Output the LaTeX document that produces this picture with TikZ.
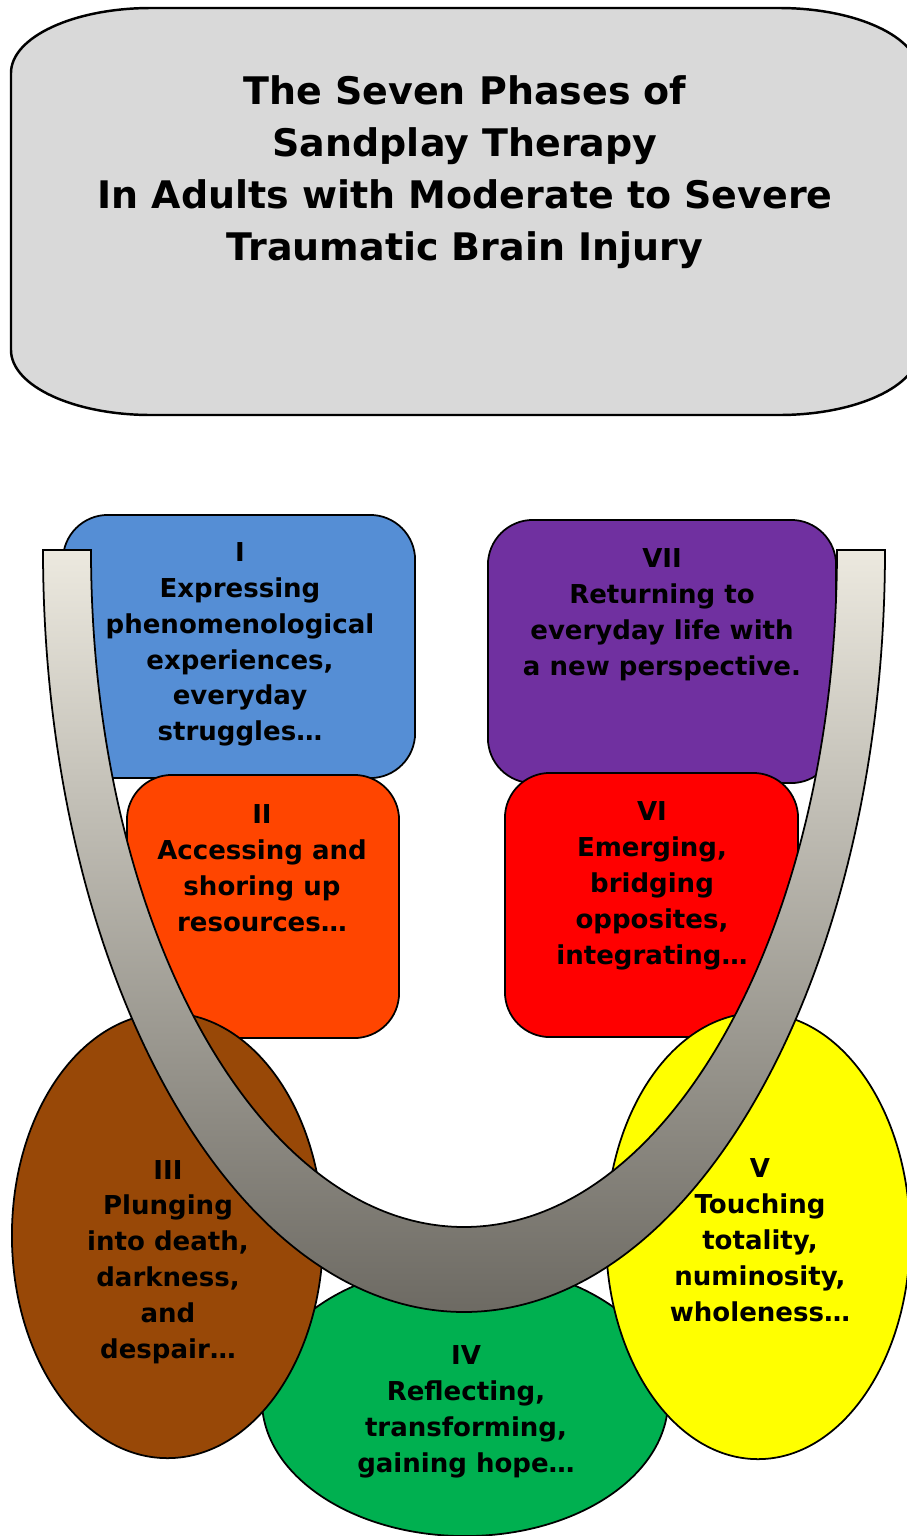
\documentclass[tikz,border=0pt]{standalone}
\usepackage{fontspec}
\setmainfont{DejaVu Sans}
\usetikzlibrary{shapes.geometric}

\definecolor{titlegray}{RGB}{217,217,217}
\definecolor{phaseI}{RGB}{85,142,213}
\definecolor{phaseII}{RGB}{255,69,0}
\definecolor{phaseIII}{RGB}{152,72,7}
\definecolor{phaseIV}{RGB}{0,176,80}
\definecolor{phaseV}{RGB}{255,255,0}
\definecolor{phaseVI}{RGB}{255,0,0}
\definecolor{phaseVII}{RGB}{112,48,160}
\definecolor{sandtop}{RGB}{236,233,223}
\definecolor{sandbottom}{RGB}{109,106,99}

\tikzset{
	phasebox/.style={draw, line width=0.5pt, rounded corners=0.45cm, inner sep=0pt},
	phaseoval/.style={draw, ellipse, line width=0.5pt, inner sep=0pt},
	phasetext/.style={align=center, text=black, font=\fontsize{7.4}{10.2}\selectfont\bfseries},
	titletext/.style={align=center, text=black, font=\fontsize{10.8}{14.8}\selectfont\bfseries},
}

\begin{document}
\begin{tikzpicture}[x=0.01cm, y=-0.01cm]
	\useasboundingbox (0,0) rectangle (907,1536);
	\clip (0,0) rectangle (907,1536);

%	centres of the shapes, in pixels from the top left
	\coordinate (cI)   at (239,646.5);
	\coordinate (cVII) at (662,651.5);
	\coordinate (cII)  at (263,906.5);
	\coordinate (cVI)  at (651.5,905);
	\coordinate (cIV)  at (465,1400);
	\coordinate (cIII) at (167.5,1235.5);
	\coordinate (cV)   at (758,1236);

	% title
	\filldraw[fill=titlegray, line width=0.7pt] (11,73) arc[start angle=180, end angle=270, x radius=140, y radius=65]
		-- (779,8) arc[start angle=270, end angle=360, x radius=140, y radius=65]
		-- (919,350) arc[start angle=0, end angle=90, x radius=140, y radius=65]
		-- (151,415) arc[start angle=90, end angle=180, x radius=140, y radius=65] -- cycle;
	\node[titletext] (title) at (465,172) {The Seven Phases of\\Sandplay Therapy\\In Adults with Moderate to Severe\\Traumatic Brain Injury};

	% boxes
	\node[phasebox, fill=phaseI, minimum width=3.52cm, minimum height=2.63cm] (boxI) at (cI) {};
	\node[phasetext] (txtI) at (240,644.5) {I\\Expressing\\phenomenological\\experiences,\\everyday\\struggles…};
	\node[phasebox, fill=phaseVII, minimum width=3.48cm, minimum height=2.63cm] (boxVII) at (cVII) {};
	\node[phasetext] (txtVII) at (662,614.5) {VII\\Returning to\\everyday life with\\a new perspective.};
	\node[phasebox, fill=phaseII, minimum width=2.72cm, minimum height=2.63cm] (boxII) at (cII) {};
	\node[phasetext] (txtII) at (262,868) {II\\Accessing and\\shoring up\\resources…};
	\node[phasebox, fill=phaseVI, minimum width=2.93cm, minimum height=2.64cm] (boxVI) at (cVI) {};
	\node[phasetext] (txtVI) at (652,886) {VI\\Emerging,\\bridging\\opposites,\\integrating…};

	% ovals
	\node[phaseoval, fill=phaseIV, minimum width=4.06cm, minimum height=2.72cm] (ovIV) at (cIV) {};
	\node[phasetext] (txtIV) at (466,1411.5) {IV\\Reflecting,\\transforming,\\gaining hope…};
	\node[phaseoval, fill=phaseIII, minimum width=3.11cm, minimum height=4.45cm] (ovIII) at (cIII) {};
	\node[phasetext] (txtIII) at (168,1262) {III\\Plunging\\into death,\\darkness,\\and\\despair…};
	\node[phaseoval, fill=phaseV, minimum width=3.04cm, minimum height=4.46cm] (ovV) at (cV) {};
	\node[phasetext] (txtV) at (760,1240) {V\\Touching\\totality,\\numinosity,\\wholeness…};

	% the sand tray arc: two half ellipses about (464,550)
	\shade[draw, line width=0.5pt, top color=sandtop, bottom color=sandbottom]
		(43,550) arc[start angle=180, end angle=0, x radius=421, y radius=762]
		-- (837,550) arc[start angle=0, end angle=180, x radius=373, y radius=677]
		-- cycle;
\end{tikzpicture}
\end{document}
